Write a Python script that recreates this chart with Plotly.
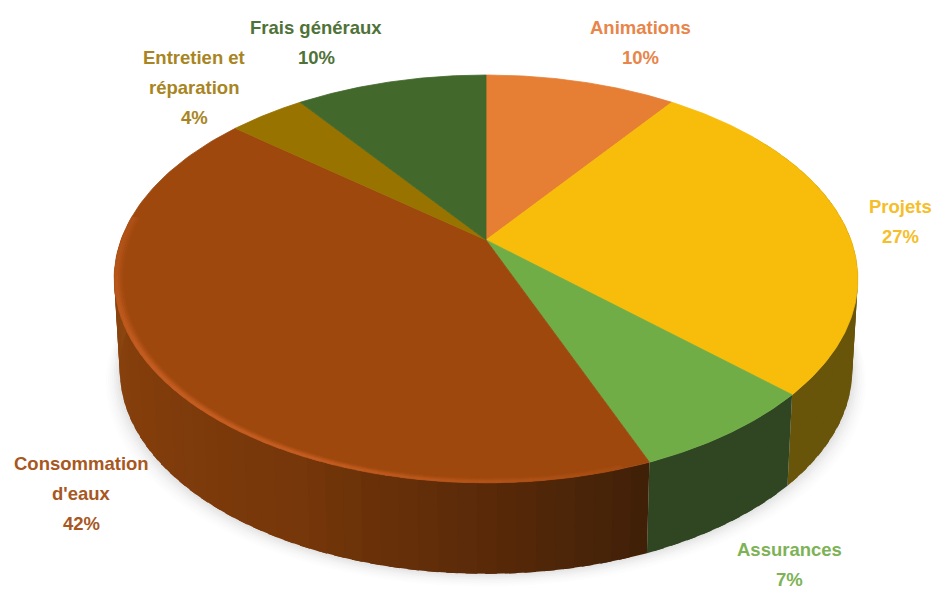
import numpy as np
import plotly.graph_objects as go

categories = ["Animations", "Projets", "Assurances", "Consommation<br>d'eaux", "Entretien et<br>réparation", "Frais généraux"]
values = [10, 27, 7, 42, 4, 10]
top_colors = ["#E67E33", "#F8BC0A", "#70AD47", "#9E480E", "#997300", "#43682B"]
label_colors = ["#E8854A", "#F5BE2A", "#7DB356", "#A8571F", "#A88522", "#4F7238"]
side_stops = {
    1: [(60, (105, 85, 10)), (134, (105, 85, 10))],
    2: [(133, (48, 70, 35)), (159, (48, 70, 35))],
    3: [(158, (64, 32, 8)), (180, (90, 42, 9)), (205, (118, 55, 10)), (240, (132, 62, 12)), (272, (140, 70, 16))],
}
label_pos = [(640, 27), (900, 206), (789, 549), (81, 463), (194, 57), (316, 27)]

# projection of a tilted disc: apex + perspective
CX, CY, A, B, K = 486, 240, 365, 196.5, 0.191
ELLIPSE_CY = 279
DEPTH_CY, DEPTH_S = 331, 0.985


def top_pt(t, s=1.0):
    d = 1 + K * np.cos(t)
    return CX + s * A * np.sin(t) / d, CY + (ELLIPSE_CY - CY) * (1 - s) - s * B * np.cos(t) / d


def bot_pt(t):
    d = 1 + K * np.cos(t)
    return CX + DEPTH_S * A * np.sin(t) / d, DEPTH_CY - B * np.cos(t) / d


def rgb(c):
    return f"rgb({int(c[0])},{int(c[1])},{int(c[2])})"


fig = go.Figure()


def poly(x, y, color, width=0.0, opacity=1.0):
    fig.add_trace(go.Scatter(x=list(x), y=list(y), mode="lines", fill="toself", fillcolor=color,
                             line=dict(color=color, width=width), opacity=opacity,
                             hoverinfo="skip", showlegend=False))


# soft shadow
tt = np.linspace(np.radians(50), np.radians(300), 200)
for grow, op in [(14, 0.012), (12, 0.016), (10, 0.02), (8, 0.025), (6, 0.03), (4, 0.035), (2, 0.04)]:
    bx, by = bot_pt(tt)
    sx = CX + (bx - CX) * (1 + grow / 372)
    sy = by + grow * 0.9
    poly(np.r_[sx, CX], np.r_[sy, 300], "rgb(110,110,110)", opacity=op)

edges = np.cumsum([0] + values) / sum(values) * 2 * np.pi

# side walls: each strip overruns into the next one so that no seams show
for i, stops in side_stops.items():
    a0 = max(np.radians(stops[0][0]), edges[i]) if i != 1 else np.radians(55)
    a1 = min(np.radians(stops[-1][0]), edges[i + 1]) if i != 3 else np.radians(stops[-1][0])
    n = max(2, int((a1 - a0) / np.radians(2.5)))
    cuts = np.linspace(a0, a1, n + 1)
    sd = np.array([s[0] for s in stops], float)
    for c0, c1 in zip(cuts[:-1], cuts[1:]):
        mid = np.degrees((c0 + c1) / 2)
        col = [np.interp(mid, sd, [s[1][j] for s in stops]) for j in range(3)]
        arc = np.linspace(c0, min(c1 + np.radians(1.5), a1), 5)
        tx, ty = top_pt(arc)
        bx, by = bot_pt(arc[::-1])
        poly(np.r_[tx, bx], np.r_[ty, by], rgb(col))

# top faces
for i, col in enumerate(top_colors):
    arc = np.linspace(edges[i], edges[i + 1], 120)
    x, y = top_pt(arc)
    poly(np.r_[CX, x, CX], np.r_[CY, y, CY], col, width=0.8)

# highlighted bevel on the big slice
base = np.array((158, 72, 14))
hi = np.array((200, 95, 35))
for s, strength in [(0.98, 0.2), (0.985, 0.45), (0.99, 0.75), (0.995, 1.0)]:
    for deg0 in np.arange(162, 276, 2):
        arc = np.radians(np.linspace(deg0, deg0 + 3, 4))
        mix = np.clip((deg0 - 162) / 40, 0, 1) * 0.7 + 0.2
        if deg0 > 235:
            mix *= 1 - (deg0 - 235) / 41 * 0.6
        col = base + (hi - base) * mix * strength
        ox, oy = top_pt(arc, s + 0.005)
        ix, iy = top_pt(arc[::-1], s - 0.005)
        poly(np.r_[ox, ix], np.r_[oy, iy], rgb(col))

# labels
total = sum(values)
for cat, v, c, (lx, ly) in zip(categories, values, label_colors, label_pos):
    lines = cat.split("<br>") + [f"{round(100 * v / total)}%"]
    for k, line in enumerate(lines):
        fig.add_annotation(x=lx, y=ly + 30 * k, xref="x", yref="y", showarrow=False, align="center",
                           text=f"<b>{line}</b>",
                           font=dict(family="Liberation Sans", size=18.5, color=c))

fig.update_layout(width=936, height=592, margin=dict(l=0, r=0, t=0, b=0), autosize=False,
                  paper_bgcolor="white", plot_bgcolor="white", showlegend=False,
                  xaxis=dict(range=[0, 936], visible=False, fixedrange=True),
                  yaxis=dict(range=[592, 0], visible=False, fixedrange=True))
fig.write_html("out.html", config={"displayModeBar": False},
               post_script="document.body.style.margin='0';document.body.style.overflow='hidden';")
